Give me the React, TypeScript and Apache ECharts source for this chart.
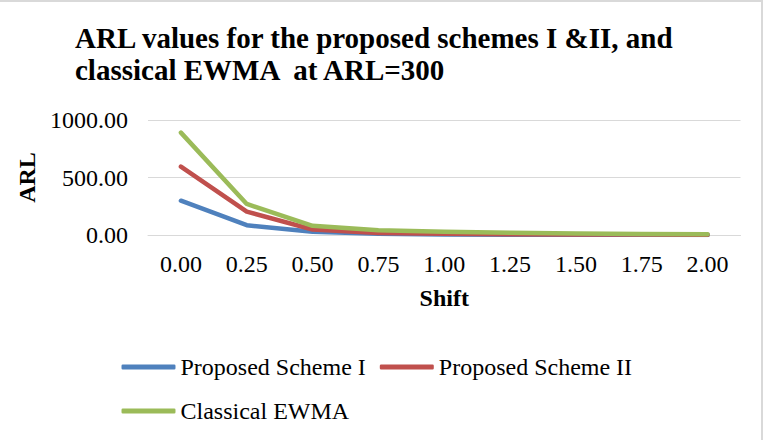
import React, { useEffect, useRef } from "react";
import * as echarts from "echarts";

const shifts = ["0.00", "0.25", "0.50", "0.75", "1.00", "1.25", "1.50", "1.75", "2.00"];
const schemeI = [298, 85, 28, 10, 5, 3, 2, 2, 1];
const schemeII = [595, 203, 48, 18, 10, 7, 5, 4, 3];
const classicalEWMA = [890, 270, 80, 42, 28, 20, 14, 9, 6];
const seriesNames = ["Proposed Scheme I", "Proposed Scheme II", "Classical EWMA"];
const colors = ["#4F81BD", "#C0504D", "#9BBB59"];

const FONT = "'Liberation Serif', 'Times New Roman', serif";

export default function App() {
  const ref = useRef<HTMLDivElement>(null);
  useEffect(() => {
    document.body.style.margin = "0";
    const chart = echarts.init(ref.current!, undefined, { renderer: "svg" });
    const values = [schemeI, schemeII, classicalEWMA];
    chart.setOption({
      animation: false,
      backgroundColor: "#ffffff",
      textStyle: { fontFamily: FONT, color: "#000" },
      title: {
        text: "ARL values for the proposed schemes I &II, and\nclassical EWMA  at ARL=300",
        left: 70,
        top: 16.5,
        textStyle: { fontFamily: FONT, fontSize: 29, fontWeight: "bold", color: "#000", lineHeight: 32 },
      },
      legend: [
        {
          data: [seriesNames[0], seriesNames[1]],
          left: 116.5,
          top: 350,
          icon: "roundRect",
          itemWidth: 54,
          itemHeight: 5,
          itemGap: 14,
          textStyle: { fontFamily: FONT, fontSize: 24, color: "#000" },
        },
        {
          data: [seriesNames[2]],
          left: 116.5,
          top: 394,
          icon: "roundRect",
          itemWidth: 54,
          itemHeight: 5,
          textStyle: { fontFamily: FONT, fontSize: 24, color: "#000" },
        },
      ],
      grid: { left: 148, right: 31.5, top: 120, bottom: 205, containLabel: false },
      xAxis: {
        type: "category",
        data: shifts,
        boundaryGap: true,
        name: "Shift",
        nameLocation: "middle",
        nameGap: 51,
        nameTextStyle: { fontFamily: FONT, fontSize: 24, fontWeight: "bold", color: "#000" },
        axisLine: { show: true, lineStyle: { color: "#d9d9d9", width: 1 } },
        axisTick: { show: false },
        axisLabel: { margin: 17, fontFamily: FONT, fontSize: 24, color: "#000" },
      },
      yAxis: {
        type: "value",
        min: 0,
        max: 1000,
        interval: 500,
        name: "ARL",
        nameLocation: "middle",
        nameGap: 106,
        nameTextStyle: { fontFamily: FONT, fontSize: 24, fontWeight: "bold", color: "#000" },
        axisLine: { show: false },
        axisTick: { show: false },
        splitLine: { lineStyle: { color: "#d9d9d9", width: 1 } },
        axisLabel: {
          margin: 20,
          fontFamily: FONT,
          fontSize: 24,
          color: "#000",
          formatter: (v: number) => v.toFixed(2),
        },
      },
      series: seriesNames.map((n, i) => ({
        name: n,
        type: "line",
        data: values[i],
        symbol: "none",
        showSymbol: false,
        lineStyle: { color: colors[i], width: 4.5, cap: "round", join: "round" },
        itemStyle: { color: colors[i] },
      })),
      graphic: [
        { type: "line", shape: { x1: 0, y1: 1, x2: 763, y2: 1 }, style: { stroke: "#d9d9d9", lineWidth: 2 } },
        { type: "line", shape: { x1: 762, y1: 0, x2: 762, y2: 440 }, style: { stroke: "#d9d9d9", lineWidth: 2 } },
      ],
    });
    return () => chart.dispose();
  }, []);
  return <div ref={ref} style={{ width: 772, height: 440 }} />;
}
